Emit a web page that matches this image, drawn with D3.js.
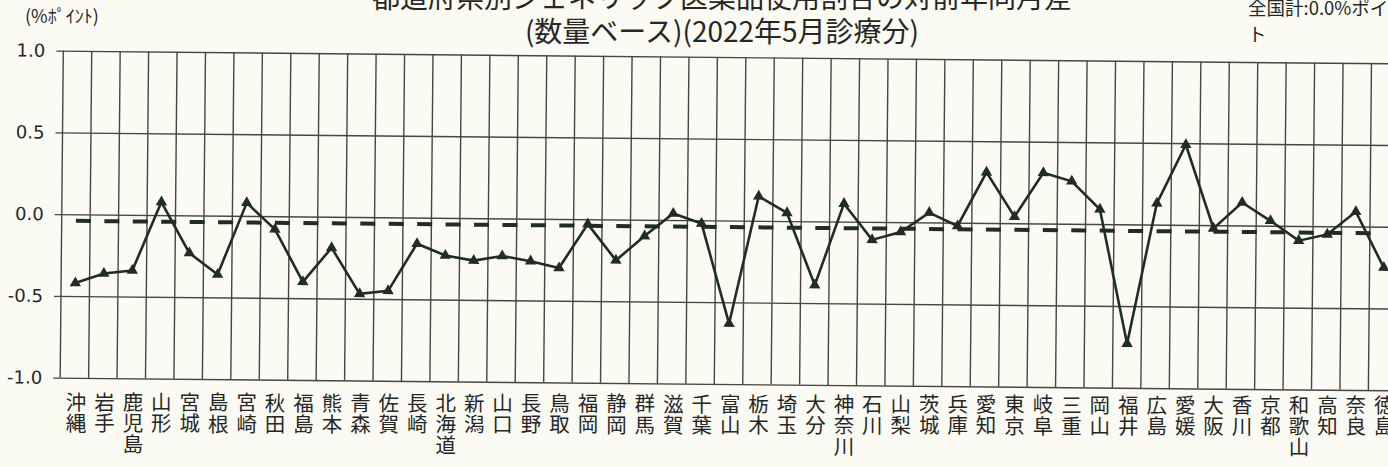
<!DOCTYPE html>
<html>
<head>
<meta charset="utf-8">
<script src="https://cdn.jsdelivr.net/npm/d3@7"></script>
<style>
  html, body { margin: 0; padding: 0; background: #fbfbf3; }
  svg { display: block; }
</style>
</head>
<body>
<svg id="chart" width="1388" height="467"></svg>
<script>
// ---------- data ----------
const categories = ["沖縄","岩手","鹿児島","山形","宮城","島根","宮崎","秋田","福島","熊本","青森","佐賀","長崎","北海道","新潟","山口","長野","鳥取","福岡","静岡","群馬","滋賀","千葉","富山","栃木","埼玉","大分","神奈川","石川","山梨","茨城","兵庫","愛知","東京","岐阜","三重","岡山","福井","広島","愛媛","大阪","香川","京都","和歌山","高知","奈良","徳島"];
const values = [-0.42,-0.36,-0.34,0.08,-0.23,-0.36,0.08,-0.08,-0.40,-0.19,-0.47,-0.45,-0.16,-0.23,-0.26,-0.23,-0.26,-0.30,-0.03,-0.25,-0.10,0.04,-0.02,-0.63,0.15,0.05,-0.39,0.11,-0.11,-0.06,0.06,-0.02,0.31,0.04,0.31,0.26,0.09,-0.73,0.13,0.49,-0.02,0.14,0.03,-0.09,-0.05,0.09,-0.25];
const nationalValue = -0.04;
const yTicks = [-1.0, -0.5, 0.0, 0.5, 1.0];
const yTickLabels = ["-1.0", "-0.5", "0.0", "0.5", "1.0"];
const titleLine1 = "都道府県別ジェネリック医薬品使用割合の対前年同月差";
const titleLine2 = "(数量ベース)(2022年5月診療分)";
const unitLabel = "(%ﾎﾟｲﾝﾄ)";
const nationalNote = ["全国計:0.0%ポイン", "ト"];

// ---------- layout ----------
const svg = d3.select("#chart");
const x0 = 63.3, y0 = 50.7, bandW = 28.44, plotH = 327;
const plotW = bandW * categories.length;
const ink = "#1f2d26";
const gridCol = "#464644";
const textCol = "#262626";
const cjk = "'Noto Sans CJK JP', 'Noto Sans', sans-serif";

const x = d3.scaleBand().domain(categories).range([x0, x0 + plotW]).paddingInner(0).paddingOuter(0);
const y = d3.scaleLinear().domain([-1, 1]).range([y0 + plotH, y0]);
const cx = c => x(c) + x.bandwidth() / 2;

// scanned page is slightly rotated
const g = svg.append("g").attr("transform", `rotate(0.545, ${x0}, ${y0})`);

// horizontal grid + y labels
const yAxis = g.append("g")
  .attr("transform", `translate(${x0 - 7},0)`)
  .call(d3.axisLeft(y).tickValues(yTicks).tickSize(-(plotW + 7)).tickPadding(11)
    .tickFormat((d, i) => yTickLabels[i]));
yAxis.select(".domain").remove();
yAxis.selectAll(".tick line").attr("stroke", gridCol).attr("stroke-width", 1.4);
yAxis.selectAll(".tick text")
  .attr("fill", textCol)
  .style("font-family", "'DejaVu Sans', sans-serif")
  .style("font-size", "18px");

// vertical grid lines at band boundaries
const bounds = categories.map(c => x(c)).concat([x.range()[1]]);
g.append("g").selectAll("line").data(bounds).join("line")
  .attr("x1", d => d).attr("x2", d => d)
  .attr("y1", y(1)).attr("y2", y(-1))
  .attr("stroke", gridCol).attr("stroke-width", 1.4);

// national dashed line
g.append("line")
  .attr("x1", cx(categories[0])).attr("x2", cx(categories[categories.length - 1]))
  .attr("y1", y(nationalValue)).attr("y2", y(nationalValue))
  .attr("stroke", ink).attr("stroke-width", 4)
  .attr("stroke-dasharray", "15,13.44");

// series line
const pts = categories.map((c, i) => ({ c, v: values[i] }));
g.append("path").datum(pts)
  .attr("fill", "none").attr("stroke", ink).attr("stroke-width", 2.6)
  .attr("stroke-linejoin", "miter")
  .attr("d", d3.line().x(d => cx(d.c)).y(d => y(d.v)));

// triangle markers
g.append("g").selectAll("path").data(pts).join("path")
  .attr("transform", d => `translate(${cx(d.c)},${y(d.v)})`)
  .attr("d", d3.symbol(d3.symbolTriangle, 56))
  .attr("fill", ink);

// x axis labels: vertical writing, one text per category
svg.append("g").selectAll("text").data(categories).join("text")
  .attr("x", d => cx(d) - 1.5)
  .attr("y", d => 392 + (cx(d) - x0) * 0.0025)
  .style("writing-mode", "vertical-rl")
  .style("font-family", cjk)
  .style("font-size", "20.5px")
  .style("letter-spacing", "0.6px")
  .attr("fill", textCol)
  .text(d => d);

// titles and notes
svg.append("text").attr("x", 722).attr("y", 8).attr("text-anchor", "middle")
  .style("font-family", cjk).style("font-size", "28px").attr("fill", textCol).text(titleLine1);
svg.append("text").attr("x", 722).attr("y", 42).attr("text-anchor", "middle")
  .style("font-family", cjk).style("font-size", "28px").attr("fill", textCol).text(titleLine2);
svg.append("text").attr("x", 25).attr("y", 23)
  .style("font-family", cjk).style("font-size", "18px").attr("fill", textCol).text(unitLabel);
svg.append("text").attr("x", 1248).attr("y", 15)
  .style("font-family", cjk).style("font-size", "18.5px").attr("fill", textCol).text(nationalNote[0]);
svg.append("text").attr("x", 1248).attr("y", 41)
  .style("font-family", cjk).style("font-size", "18.5px").attr("fill", textCol).text(nationalNote[1]);
</script>
</body>
</html>
